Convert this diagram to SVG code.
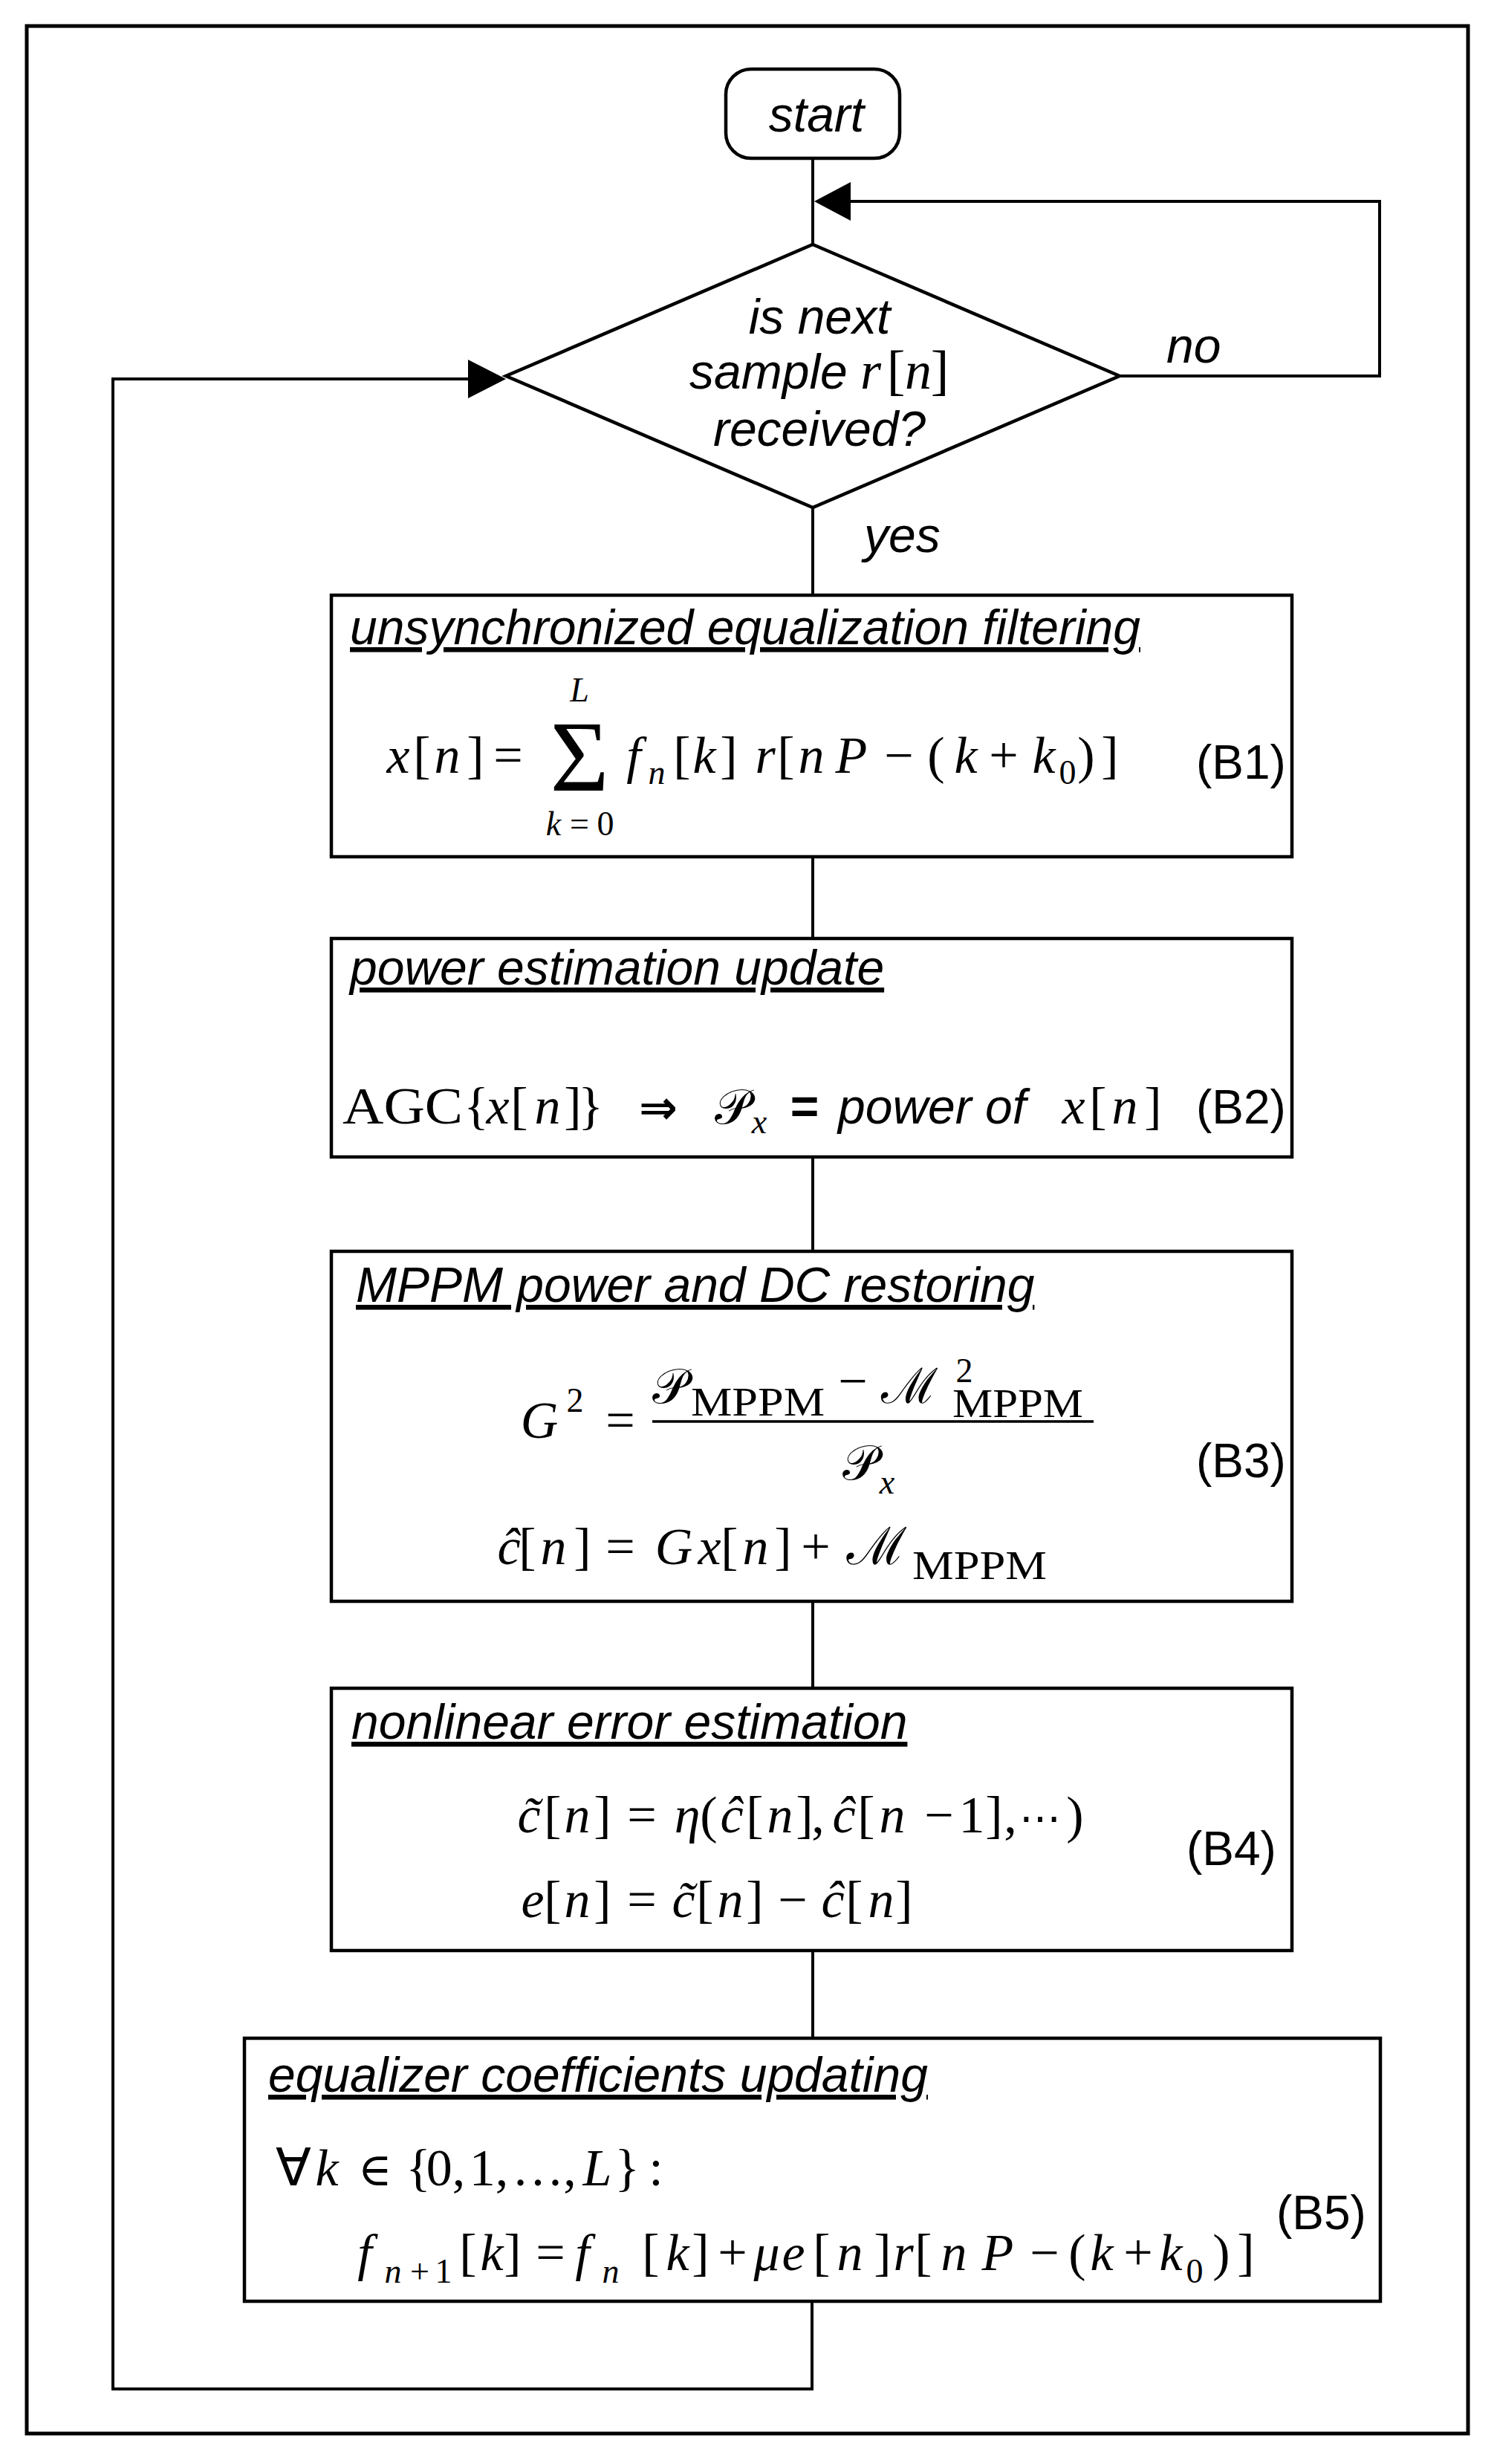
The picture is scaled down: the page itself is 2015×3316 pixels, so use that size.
<svg xmlns="http://www.w3.org/2000/svg" width="2015" height="3316" viewBox="0 0 2015 3316">
<style>
.box{fill:#fff;stroke:#000;stroke-width:4.5}
.ln{fill:none;stroke:#000;stroke-width:4}
.ah{fill:#000;stroke:none}
.lbl{font-family:"Liberation Sans",Arial,sans-serif;font-style:italic;font-size:66px;fill:#000}
.ttl{font-family:"Liberation Sans",Arial,sans-serif;font-style:italic;font-size:66px;fill:#000;text-decoration:underline;text-decoration-skip-ink:none}
.mo{font-family:"Liberation Serif","Times New Roman",serif;font-style:normal;font-size:70px;text-anchor:middle;fill:#000}
.mi{font-family:"Liberation Serif","Times New Roman",serif;font-style:italic;font-size:70px;text-anchor:middle}
.cal{font-family:"DejaVu Serif","Noto Sans",serif;font-style:normal;font-size:66px;text-anchor:middle}
.mo.sb,.mi.sb,.sb{font-size:46px}
.rm{font-family:"Liberation Serif","Times New Roman",serif;font-style:normal;font-size:54px;text-anchor:start}
.tag{font-family:"Liberation Sans",Arial,sans-serif;font-size:64px;fill:#000}
.sy{font-family:"DejaVu Sans",sans-serif;font-style:normal;text-anchor:middle}
</style>
<rect x="36" y="35" width="1940" height="3240" fill="none" stroke="#000" stroke-width="5"/>
<g id="connectors">
<path class="ln" d="M1094 213 V329"/>
<path class="ln" d="M1507 506 H1857 V271 H1140"/>
<polygon class="ah" points="1096,271 1145,245 1145,297"/>
<path class="ln" d="M1094 683 V801"/>
<path class="ln" d="M1094 1153 V1263"/>
<path class="ln" d="M1094 1557 V1684"/>
<path class="ln" d="M1094 2155 V2272"/>
<path class="ln" d="M1094 2625 V2743"/>
<path class="ln" d="M1093 3097 V3215 H152 V510 H635"/>
<polygon class="ah" points="681,510 630,484 630,536"/>
</g>
<g id="start">
<rect class="box" x="977" y="93" width="234" height="120" rx="34" ry="34"/>
<text class="lbl" x="1099" y="177" text-anchor="middle">start</text>
</g>
<g id="decision">
<polygon class="box" points="1094,329 1507,506 1094,683 681,506"/>
<text class="lbl" x="1103" y="449" text-anchor="middle">is next</text>
<text class="lbl" x="928" y="523">sample<tspan class="mi" x="1172" style="font-size:72px">r</tspan><tspan class="mo" x="1206" style="font-size:74px">[</tspan><tspan class="mi" x="1236" style="font-size:72px">n</tspan><tspan class="mo" x="1265" style="font-size:74px">]</tspan></text>
<text class="lbl" x="1103" y="600" text-anchor="middle">received?</text>
<text class="lbl" x="1570" y="488">no</text>
<text class="lbl" x="1163" y="743">yes</text>
</g>
<g id="B1">
<rect class="box" x="446" y="801" width="1293" height="352"/>
<text class="ttl" x="471" y="867">unsynchronized equalization filtering</text>
<text class="mo" y="1040"><tspan class="mi" x="536">x</tspan><tspan x="568">[</tspan><tspan class="mi" x="602">n</tspan><tspan x="640">]</tspan><tspan x="684">=</tspan><tspan class="mi" x="853">f</tspan><tspan class="mi sb" x="884" y="1055">n</tspan><tspan x="918" y="1040">[</tspan><tspan class="mi" x="948">k</tspan><tspan x="981">]</tspan><tspan class="mi" x="1030">r</tspan><tspan x="1058">[</tspan><tspan class="mi" x="1092">n</tspan><tspan class="mi" x="1146">P</tspan><tspan x="1210">−</tspan><tspan x="1260">(</tspan><tspan class="mi" x="1300">k</tspan><tspan x="1351">+</tspan><tspan class="mi" x="1405">k</tspan><tspan class="sb" x="1437" y="1055">0</tspan><tspan x="1462" y="1040">)</tspan><tspan x="1494">]</tspan></text>
<text class="mo" x="780" y="1064" style="font-size:136px">Σ</text>
<text class="mi sb" x="780" y="944">L</text>
<text class="mo sb" y="1124"><tspan class="mi sb" x="745">k</tspan><tspan x="780">=</tspan><tspan x="815">0</tspan></text>
<text class="tag" x="1610" y="1048">(B1)</text>
</g>
<g id="B2">
<rect class="box" x="446" y="1263" width="1293" height="294"/>
<text class="ttl" x="471" y="1325">power estimation update</text>
<text class="mo" y="1512"><tspan x="461" style="text-anchor:start" textLength="162" lengthAdjust="spacingAndGlyphs">AGC</tspan><tspan x="641">{</tspan><tspan class="mi" x="670">x</tspan><tspan x="699">[</tspan><tspan class="mi" x="737">n</tspan><tspan x="771">]</tspan><tspan x="795">}</tspan><tspan class="sy" x="886" style="font-size:62px;font-weight:bold">⇒</tspan><tspan class="cal" x="986">𝒫</tspan><tspan class="mi sb" x="1022" y="1525">x</tspan><tspan class="sy" x="1083" y="1512" style="font-family:'Liberation Sans',sans-serif;font-size:66px;font-weight:bold">=</tspan><tspan class="lbl" x="1128" style="text-anchor:start">power of</tspan><tspan class="mi" x="1445">x</tspan><tspan x="1478">[</tspan><tspan class="mi" x="1514">n</tspan><tspan x="1552">]</tspan></text>
<text class="tag" x="1610" y="1512">(B2)</text>
</g>
<g id="B3">
<rect class="box" x="446" y="1684" width="1293" height="471"/>
<text class="ttl" x="479" y="1752">MPPM power and DC restoring</text>
<text class="mo" y="1935"><tspan class="mi" x="726">G</tspan><tspan class="sb" x="774" y="1900">2</tspan><tspan x="835" y="1935">=</tspan></text>
<line x1="878" y1="1913" x2="1472" y2="1913" stroke="#000" stroke-width="3.5"/>
<text class="mo" y="1888"><tspan class="cal" x="902">𝒫</tspan><tspan class="rm" x="930" y="1905" textLength="180" lengthAdjust="spacingAndGlyphs">MPPM</tspan><tspan x="1148" y="1882">−</tspan><tspan class="cal" x="1224" y="1888">ℳ</tspan><tspan class="sb" x="1298" y="1860">2</tspan><tspan class="rm" x="1282" y="1907" textLength="176" lengthAdjust="spacingAndGlyphs">MPPM</tspan></text>
<text class="mo" y="1991"><tspan class="cal" x="1158">𝒫</tspan><tspan class="mi sb" x="1194" y="2010">x</tspan></text>
<text class="tag" x="1610" y="1988">(B3)</text>
<text class="mo" y="2105"><tspan class="mi" x="685">ĉ</tspan><tspan x="710">[</tspan><tspan class="mi" x="745">n</tspan><tspan x="784">]</tspan><tspan x="835">=</tspan><tspan class="mi" x="907">G</tspan><tspan class="mi" x="955">x</tspan><tspan x="982">[</tspan><tspan class="mi" x="1017">n</tspan><tspan x="1054">]</tspan><tspan x="1098">+</tspan><tspan class="cal" x="1180" style="font-size:70px">ℳ</tspan><tspan class="rm" x="1228" y="2125" textLength="181" lengthAdjust="spacingAndGlyphs">MPPM</tspan></text>
</g>
<g id="B4">
<rect class="box" x="446" y="2272" width="1293" height="353"/>
<text class="ttl" x="473" y="2340">nonlinear error estimation</text>
<text class="mo" y="2466"><tspan class="mi" x="712">c̃</tspan><tspan x="744">[</tspan><tspan class="mi" x="777">n</tspan><tspan x="811">]</tspan><tspan x="864">=</tspan><tspan class="mi" x="925">η</tspan><tspan x="954">(</tspan><tspan class="mi" x="985">ĉ</tspan><tspan x="1016">[</tspan><tspan class="mi" x="1050">n</tspan><tspan x="1083">]</tspan><tspan x="1101">,</tspan><tspan class="mi" x="1136">ĉ</tspan><tspan x="1166">[</tspan><tspan class="mi" x="1201">n</tspan><tspan x="1264">−</tspan><tspan x="1308">1</tspan><tspan x="1338">]</tspan><tspan x="1360">,</tspan><tspan class="sy" x="1400" style="font-family:'DejaVu Serif',serif;font-size:56px">⋯</tspan><tspan x="1447">)</tspan></text>
<text class="mo" y="2580"><tspan class="mi" x="717">e</tspan><tspan x="744">[</tspan><tspan class="mi" x="777">n</tspan><tspan x="811">]</tspan><tspan x="864">=</tspan><tspan class="mi" x="920">c̃</tspan><tspan x="949">[</tspan><tspan class="mi" x="983">n</tspan><tspan x="1016">]</tspan><tspan x="1067">−</tspan><tspan class="mi" x="1121">ĉ</tspan><tspan x="1150">[</tspan><tspan class="mi" x="1186">n</tspan><tspan x="1217">]</tspan></text>
<text class="tag" x="1597" y="2510">(B4)</text>
</g>
<g id="B5">
<rect class="box" x="329" y="2743" width="1529" height="354"/>
<text class="ttl" x="361" y="2815">equalizer coefficients updating</text>
<text class="mo" y="2941"><tspan class="sy" x="395" style="font-size:70px">∀</tspan><tspan class="mi" x="440">k</tspan><tspan class="sy" x="505" style="font-family:'DejaVu Serif',serif;font-size:62px">∈</tspan><tspan x="563">{</tspan><tspan x="600">0,</tspan><tspan x="658">1,</tspan><tspan x="724">…</tspan><tspan x="767">,</tspan><tspan class="mi" x="804">L</tspan><tspan x="844">}</tspan><tspan x="883">:</tspan></text>
<text class="mo" y="3055"><tspan class="mi" x="491">f</tspan><tspan class="mi sb" x="529" y="3072">n</tspan><tspan class="sb" x="565">+</tspan><tspan class="sb" x="597">1</tspan><tspan x="630" y="3055">[</tspan><tspan class="mi" x="662">k</tspan><tspan x="690">]</tspan><tspan x="741">=</tspan><tspan class="mi" x="784">f</tspan><tspan class="mi sb" x="822" y="3072">n</tspan><tspan x="876" y="3055">[</tspan><tspan class="mi" x="912">k</tspan><tspan x="943">]</tspan><tspan x="986">+</tspan><tspan class="mi" x="1032">μ</tspan><tspan class="mi" x="1068">e</tspan><tspan x="1106">[</tspan><tspan class="mi" x="1144">n</tspan><tspan x="1188">]</tspan><tspan class="mi" x="1216">r</tspan><tspan x="1243">[</tspan><tspan class="mi" x="1284">n</tspan><tspan class="mi" x="1343">P</tspan><tspan x="1406">−</tspan><tspan x="1450">(</tspan><tspan class="mi" x="1483">k</tspan><tspan x="1532">+</tspan><tspan class="mi" x="1576">k</tspan><tspan class="sb" x="1608" y="3072">0</tspan><tspan x="1644" y="3055">)</tspan><tspan x="1677">]</tspan></text>
<text class="tag" x="1718" y="3000">(B5)</text>
</g>
</svg>
